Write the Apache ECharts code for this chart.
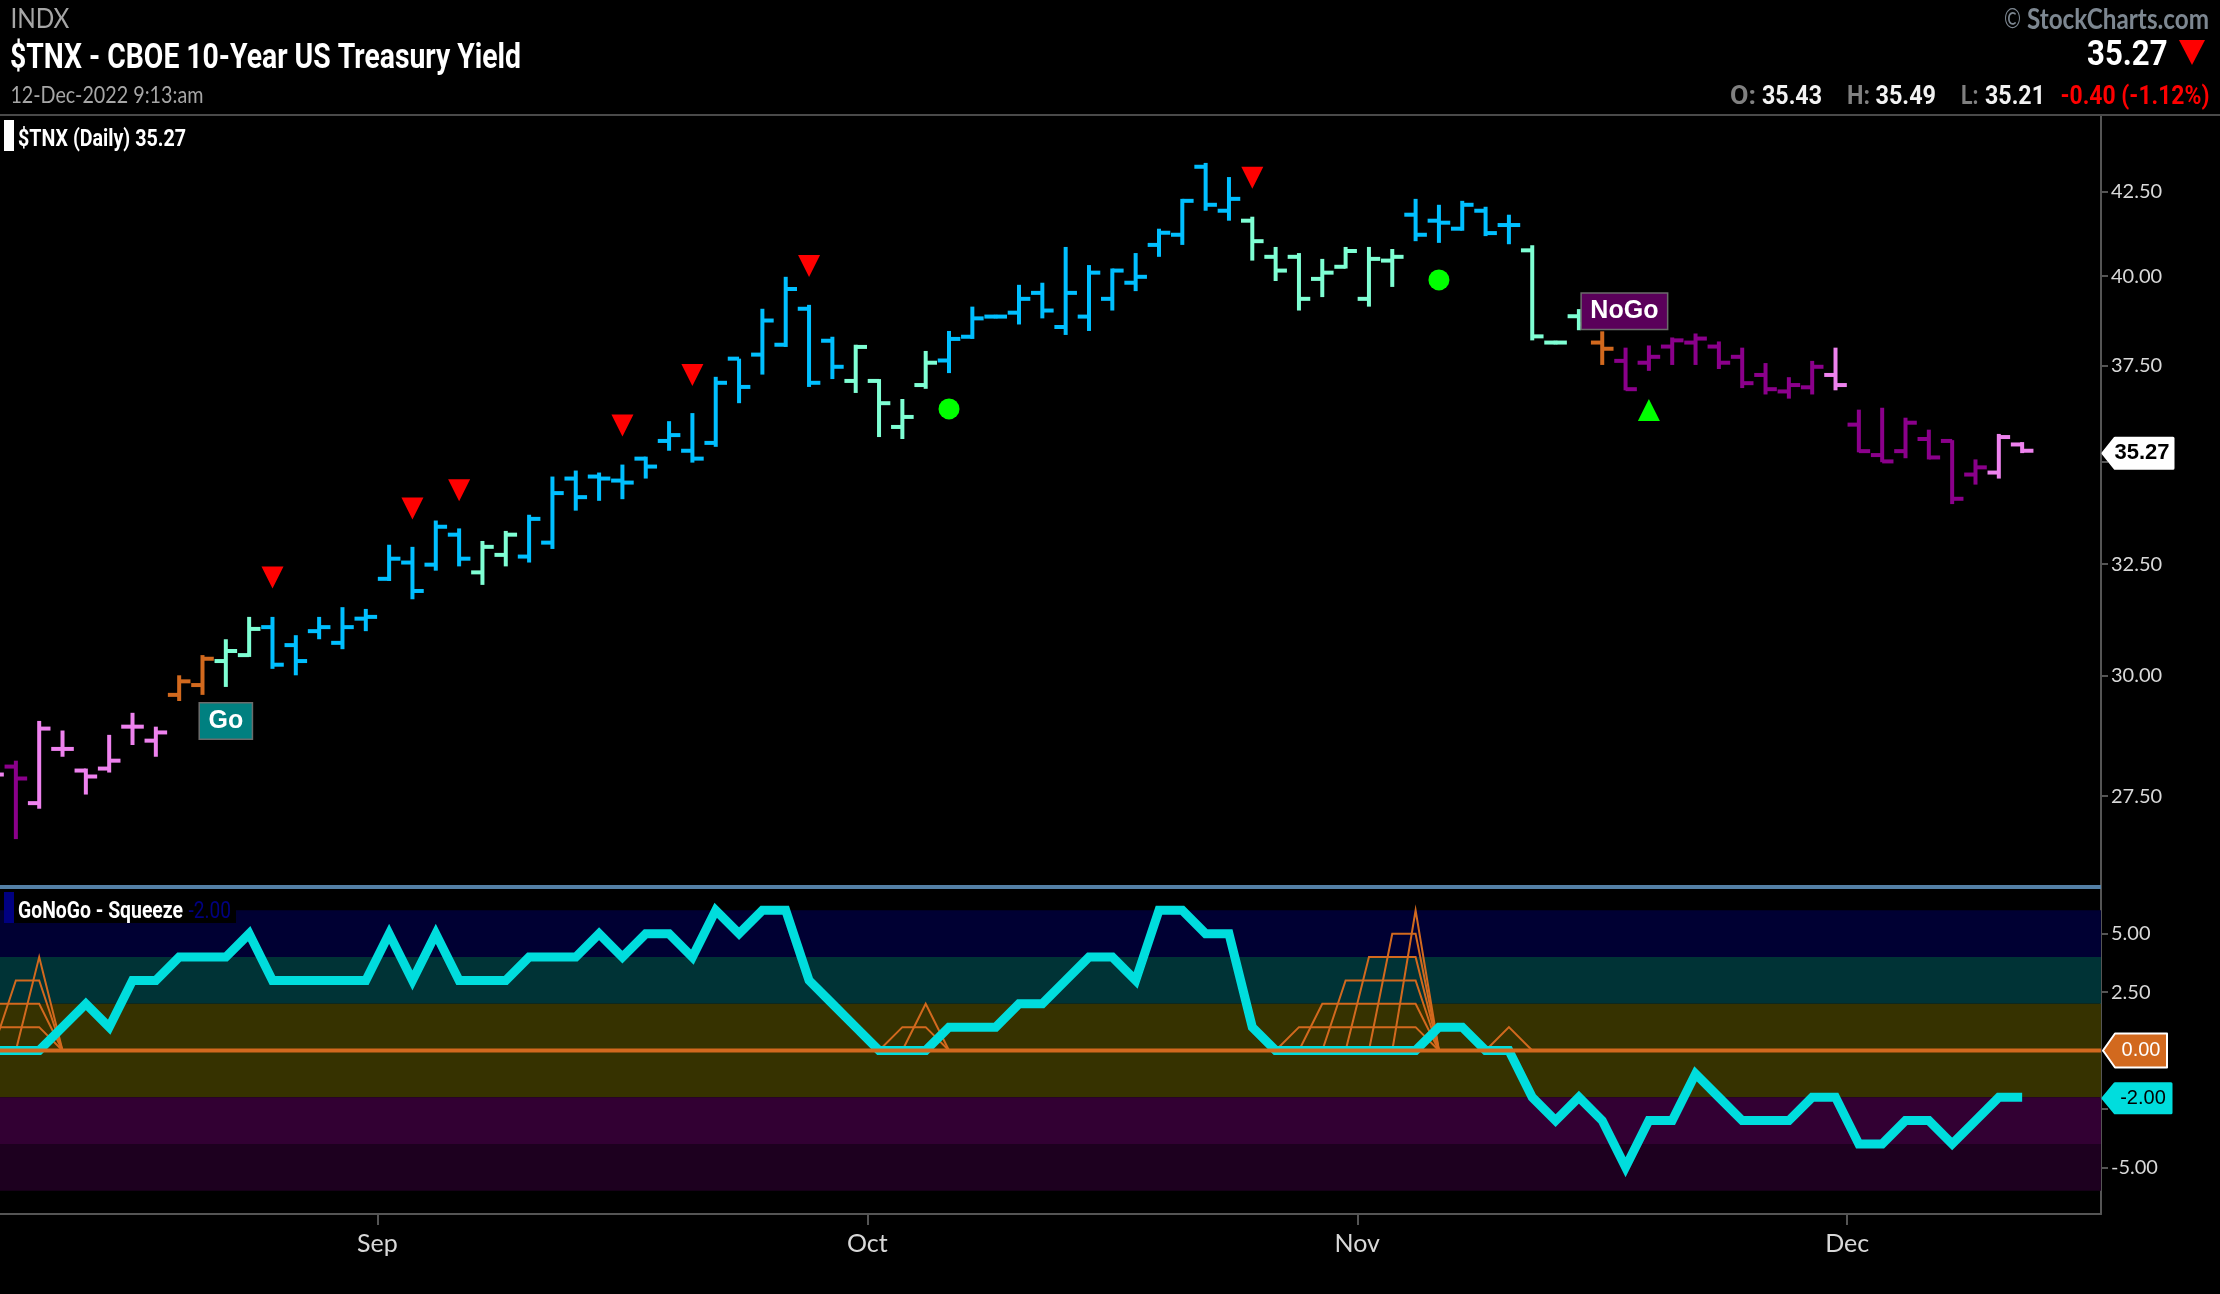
<!DOCTYPE html>
<html>
<head>
<meta charset="utf-8">
<title>$TNX - CBOE 10-Year US Treasury Yield</title>
<script src="https://cdn.jsdelivr.net/npm/echarts@6/dist/echarts.min.js"></script>
<style>
  html, body { margin: 0; padding: 0; background: #000; }
  #chart { width: 2220px; height: 1294px; }
</style>
</head>
<body>
<div id="chart"></div>
<script>
// Daily bars, one entry per trading day from 9 Aug to 12 Dec 2022
const barOpen = [
  27.93,28.09,27.36,28.45,28.01,28.05,28.91,28.62,29.58,29.79,
  30.31,30.44,31.06,30.66,30.97,30.71,31.25,32.16,32.54,32.49,
  33.20,32.31,32.72,32.68,33.01,34.57,34.62,34.52,35.07,35.52,
  35.27,35.47,37.69,37.80,38.07,39.07,38.18,37.09,37.09,35.88,
  36.98,37.64,38.29,38.85,38.96,39.52,38.56,38.85,39.35,39.81,
  40.91,41.21,43.28,41.93,41.63,40.56,40.56,39.92,40.27,39.35,
  40.45,41.81,41.63,41.39,41.93,41.50,40.75,38.13,38.86,38.13,
  37.63,37.58,38.02,38.13,38.02,37.74,37.25,36.81,36.92,37.25,
  35.94,35.16,35.26,35.57,35.52,34.67,34.72,35.43];
const barHigh = [
  28.20,28.21,29.03,28.83,28.05,28.74,29.20,28.91,30.00,30.44,
  30.79,31.29,31.29,30.88,31.29,31.51,31.47,32.96,32.91,33.54,
  33.35,33.05,33.29,33.68,34.62,34.77,34.72,34.92,35.12,36.03,
  36.24,37.20,37.69,39.07,39.98,39.18,38.29,38.07,37.14,36.61,
  37.90,38.45,39.13,38.90,39.75,39.81,40.85,40.32,40.22,40.67,
  41.39,42.29,43.40,42.96,41.75,40.85,40.67,40.50,40.85,40.85,
  40.79,42.29,42.11,42.23,42.05,41.81,40.90,38.18,39.06,38.44,
  37.99,38.05,38.27,38.38,38.16,37.99,37.57,37.19,37.63,37.99,
  36.33,36.38,36.12,35.81,35.54,35.05,35.70,35.49];
const barLow = [
  27.70,26.66,27.25,28.29,27.53,27.97,28.53,28.29,29.45,29.58,
  29.75,30.40,30.14,30.00,30.79,30.57,30.97,32.11,31.69,32.35,
  32.45,32.02,32.45,32.54,32.86,33.78,34.02,34.06,34.57,35.27,
  34.97,35.37,36.50,37.26,38.01,36.93,37.14,36.77,35.62,35.57,
  36.88,37.30,38.23,38.80,38.63,38.80,38.34,38.45,39.02,39.57,
  40.56,40.91,41.93,41.63,40.45,39.86,39.02,39.40,40.22,39.13,
  39.69,41.02,40.97,41.33,41.17,40.93,38.19,38.08,38.47,37.52,
  36.84,37.36,37.52,37.52,37.41,36.90,36.73,36.62,36.73,36.84,
  35.23,34.98,35.08,35.05,33.94,34.42,34.57,35.21];
const barClose = [
  27.93,27.85,28.87,28.45,27.89,28.21,28.91,28.79,29.87,30.36,
  30.53,31.02,30.23,30.31,31.06,31.06,31.29,32.63,31.88,33.39,
  32.63,32.91,33.20,33.58,34.21,34.11,34.57,34.47,34.87,35.67,
  35.07,37.04,36.93,38.74,39.63,37.04,37.47,38.01,36.50,36.14,
  37.58,38.23,38.80,38.85,39.35,39.02,39.52,40.10,40.16,39.98,
  41.27,42.23,42.11,42.29,41.02,40.16,39.35,40.10,40.73,40.50,
  40.56,41.21,41.57,42.11,41.26,41.50,38.30,38.13,38.64,37.96,
  36.87,37.74,38.19,38.24,37.58,37.03,36.87,36.98,37.47,36.98,
  35.26,35.00,35.99,35.10,34.07,34.85,35.62,35.27];

// GoNoGo colour of the bars, as runs of [state, number of bars]
const stateRuns = [
  ['nogoWeak',1],['nogo',1],['nogoWeak',6],['neutral',2],['goWeak',2],['go',9],
  ['goWeak',2],['go',14],['goWeak',4],['go',13],['goWeak',7],['go',5],
  ['goWeak',3],['neutral',1],['nogo',9],['nogoWeak',1],['nogo',6],['nogoWeak',2]];

// GoNoGo oscillator, one value per bar
const oscillator = [
  0,0,0,1,2,1,3,3,4,4,4,5,3,3,3,3,3,5,3,5,3,3,3,4,4,4,5,4,5,5,
  4,6,5,6,6,3,2,1,0,0,0,1,1,1,2,2,3,4,4,3,6,6,5,5,1,0,0,0,0,0,
  0,0,1,1,0,0,-2,-3,-2,-3,-5,-3,-3,-1,-2,-3,-3,-3,-2,-2,-4,-4,-3,-3,-4,-3,-2,-2];

// Squeeze grid: each line is a list of [bar, level]
const squeezeLines = [
  [[0,1],[2,1],[3,0]], [[0,2],[2,2],[3,0]], [[0,0],[1,3],[2,3],[3,0]], [[1,0],[2,4],[3,0]],
  [[38,0],[39,1],[40,1],[41,0]], [[39,0],[40,2],[41,0]],
  [[55,0],[56,1],[61,1],[62,0]], [[56,0],[57,2],[61,2],[62,0]], [[57,0],[58,3],[61,3],[62,0]],
  [[58,0],[59,4],[61,4],[62,0]], [[59,0],[60,5],[61,5],[62,0]], [[60,0],[61,6],[62,0]],
  [[64,0],[65,1],[66,0]]];

// Signals on the price panel: [bar, price]
const sellSignals = [[12,32.19],[18,33.83],[20,34.28],[27,35.92],[30,37.25],[35,40.29],[54,42.94]];
const dotSignals = [[41,36.35],[62,39.89]];
const buySignals = [[71,36.32]];
const goLabel = [[10,29.03]];
const noGoLabel = [[69.95,39.00]];

const priceTicks = [27.5,30,32.5,35,37.5,40,42.5];
const priceLabels = [27.5,30,32.5,37.5,40,42.5];
const oscTicks = [-5,-2.5,0,2.5,5];
const oscLabels = [-5,2.5,5];
const monthNames = ['Sep','Oct','Nov','Dec'];
const monthTicks = [16.5,37.5,58.5,79.5];
const oscBands = [[6,4,'#000033'],[4,2,'#003336'],[2,-2,'#363200'],[-2,-4,'#320033'],[-4,-6,'#1d001f']];

const stateColors = {go:'#00BFFF', goWeak:'#7FFFD4', neutral:'#D2691E', nogo:'#8B008B', nogoWeak:'#EE82EE'};
const barStates = stateRuns.flatMap(function(run) { return Array(run[1]).fill(run[0]); });

const AXIS_COLOR = '#555';
const LABEL_COLOR = '#d8d8d8';
const X_MIN = 0.32;
const X_MAX = 90.38;

const chart = echarts.init(document.getElementById('chart'));

// The price panel is a log scale, so prices go through Math.log onto a linear axis
const toAxis = function(pair) { return [pair[0], Math.log(pair[1])]; };

// Open/high/low/close bar: stem with a left tick for open and a right tick for close
function renderBar(params, api) {
  const x = api.value(0);
  const open = api.coord([x, api.value(1)]);
  const high = api.coord([x, api.value(2)]);
  const low = api.coord([x, api.value(3)]);
  const close = api.coord([x, api.value(4)]);
  const fill = stateColors[barStates[params.dataIndex]];
  const tick = 11.3;
  return {
    type: 'group',
    children: [
      {type:'rect', shape:{x:open[0]-2, y:high[1], width:4, height:low[1]-high[1]}, style:{fill:fill}},
      {type:'rect', shape:{x:open[0]-tick, y:open[1]-2, width:tick, height:4}, style:{fill:fill}},
      {type:'rect', shape:{x:close[0], y:close[1]-2, width:tick, height:4}, style:{fill:fill}}
    ]
  };
}

// Last value tag hanging off the right axis
function renderTag(tag, value) {
  return function(params, api) {
    const pos = api.coord([X_MAX, value]);
    const x = pos[0] + 2;
    const y = pos[1] + tag.dy;
    const w = tag.width;
    const h = tag.height / 2;
    return {
      type: 'group',
      children: [
        {type:'polygon',
          shape:{points:[[x,y],[x+12,y-h],[x+w,y-h],[x+w,y+h],[x+12,y+h]]},
          style:{fill:tag.fill, stroke:tag.stroke, lineWidth:tag.lineWidth, lineJoin:'round'}},
        {type:'text',
          style:{x:x+tag.textX, y:y, text:tag.text, align:'center', verticalAlign:'middle',
            fill:tag.color, font:tag.font}}
      ]
    };
  };
}

function tagSeries(tag, value, axisIndex) {
  return {
    type:'custom', xAxisIndex:axisIndex, yAxisIndex:axisIndex, z:30, clip:false, silent:true,
    data:[[X_MAX, value]], renderItem:renderTag(tag, value)
  };
}

function boxLabel(text, fill) {
  return {
    show:true, position:'inside', formatter:text, color:'#fff',
    fontFamily:'Liberation Sans', fontWeight:'bold', fontSize:25, lineHeight:25,
    backgroundColor:fill, borderColor:'#6b6b6b', borderWidth:1.5, padding:[5,8.5,5,8.5]
  };
}

// Header text, squeezed sideways to the condensed width of the original font
const measure = document.createElement('canvas').getContext('2d');
function headerText(text, x, width, y, size, weight, family, fill) {
  const font = weight + ' ' + size + 'px "' + family + '"';
  measure.font = font;
  return {
    type:'text', x:x, y:y, scaleX:width/measure.measureText(text).width, z:50, silent:true,
    style:{text:text, x:0, y:0, font:font, fill:fill, align:'left', verticalAlign:'middle'}
  };
}

const GREY = '#a6a6a6';
const graphics = [
  {type:'rect', z:40, silent:true, shape:{x:0,y:114,width:2220,height:2}, style:{fill:'#4a4a4a'}},
  {type:'rect', z:40, silent:true, shape:{x:0,y:885,width:2101,height:4}, style:{fill:'#5480A6'}},
  {type:'rect', z:40, silent:true, shape:{x:4,y:120,width:10,height:31}, style:{fill:'#fff'}},
  {type:'rect', z:40, silent:true, shape:{x:14,y:892,width:222,height:31}, style:{fill:'#000'}},
  {type:'rect', z:41, silent:true, shape:{x:4,y:892,width:10,height:31}, style:{fill:'#000080'}},
  {type:'polygon', z:41, silent:true, shape:{points:[[2179,40],[2205,40],[2192,65]]}, style:{fill:'#f00'}},
  headerText('INDX', 10.4, 59, 20, 26, 400, 'Lato', GREY),
  headerText('$TNX - CBOE 10-Year US Treasury Yield', 10, 511, 59, 35, 700, 'Roboto', '#fff'),
  headerText('12-Dec-2022 9:13:am', 10.4, 193, 95.7, 23, 400, 'Lato', GREY),
  headerText('$TNX (Daily) 35.27', 18, 168, 140, 24, 700, 'Roboto', '#fff'),
  headerText('©', 2004, 17, 20, 26, 400, 'Lato', '#7d8791'),
  headerText('StockCharts.com', 2027, 182, 20, 28, 700, 'Lato', '#7d8791'),
  headerText('35.27', 2087, 80.6, 56, 35, 700, 'Roboto', '#fff'),
  headerText('O:', 1730, 26, 97.5, 25, 700, 'Roboto', '#808080'),
  headerText('35.43', 1762, 60, 97.5, 25, 700, 'Roboto', '#f2f2f2'),
  headerText('H:', 1847, 23, 97.5, 25, 700, 'Roboto', '#808080'),
  headerText('35.49', 1875.5, 60.5, 97.5, 25, 700, 'Roboto', '#f2f2f2'),
  headerText('L:', 1961, 17.5, 97.5, 25, 700, 'Roboto', '#808080'),
  headerText('35.21', 1985, 60, 97.5, 25, 700, 'Roboto', '#f2f2f2'),
  headerText('-0.40 (-1.12%)', 2060.5, 149, 97.5, 25, 700, 'Roboto', '#f00'),
  headerText('GoNoGo - Squeeze', 18, 165, 912, 24, 700, 'Roboto', '#fff'),
  headerText('-2.00', 188.5, 42.5, 912, 24, 400, 'Roboto', '#000080')
];

const oscData = oscillator.map(function(v, i) { return [i, v]; });

const option = {
  animation: false,
  backgroundColor: '#000',
  graphic: graphics,
  grid: [
    {left:0, right:119, top:115, height:772},
    {left:0, right:119, top:887, height:327}
  ],
  xAxis: [
    {type:'value', gridIndex:0, min:X_MIN, max:X_MAX, show:false},
    {type:'value', gridIndex:1, min:X_MIN, max:X_MAX, position:'bottom',
      splitLine:{show:false},
      axisLine:{onZero:false, lineStyle:{color:AXIS_COLOR, width:2}},
      axisTick:{customValues:monthTicks, length:11, lineStyle:{color:AXIS_COLOR, width:2}},
      axisLabel:{customValues:monthTicks, margin:17, color:LABEL_COLOR, fontFamily:'Lato', fontSize:25,
        formatter:function(v) { return monthNames[monthTicks.indexOf(v)]; }}}
  ],
  yAxis: [
    {type:'value', gridIndex:0, position:'right', min:3.24864, max:3.80499,
      splitLine:{show:false},
      axisLine:{show:true, onZero:false, lineStyle:{color:AXIS_COLOR, width:2}},
      axisTick:{show:true, customValues:priceTicks.map(Math.log), length:7, lineStyle:{color:AXIS_COLOR, width:2}},
      axisLabel:{customValues:priceLabels.map(Math.log), margin:10, color:LABEL_COLOR, fontFamily:'Lato', fontSize:20,
        formatter:function(v) { return Math.exp(v).toFixed(2); }}},
    {type:'value', gridIndex:1, position:'right', min:-7, max:7,
      splitLine:{show:false},
      axisLine:{show:true, onZero:false, lineStyle:{color:AXIS_COLOR, width:2}},
      axisTick:{show:true, customValues:oscTicks, length:7, lineStyle:{color:AXIS_COLOR, width:2}},
      axisLabel:{customValues:oscLabels, margin:10, color:LABEL_COLOR, fontFamily:'Lato', fontSize:20,
        formatter:function(v) { return v.toFixed(2); }}}
  ],
  series: [
    // price panel
    {type:'custom', xAxisIndex:0, yAxisIndex:0, clip:true, z:2, silent:true, renderItem:renderBar,
      encode:{x:0, y:[1,2,3,4]},
      data:barOpen.map(function(o, i) {
        return [i, Math.log(o), Math.log(barHigh[i]), Math.log(barLow[i]), Math.log(barClose[i])];
      })},
    {type:'scatter', xAxisIndex:0, yAxisIndex:0, z:3, silent:true, symbol:'triangle', symbolRotate:180,
      symbolSize:[22,22], itemStyle:{color:'#f00', opacity:1}, data:sellSignals.map(toAxis)},
    {type:'scatter', xAxisIndex:0, yAxisIndex:0, z:3, silent:true, symbol:'circle',
      symbolSize:21, itemStyle:{color:'#00ff00', opacity:1}, data:dotSignals.map(toAxis)},
    {type:'scatter', xAxisIndex:0, yAxisIndex:0, z:3, silent:true, symbol:'triangle',
      symbolSize:[22,22], itemStyle:{color:'#00ff00', opacity:1}, data:buySignals.map(toAxis)},
    {type:'scatter', xAxisIndex:0, yAxisIndex:0, z:4, silent:true, symbolSize:1,
      itemStyle:{color:'transparent', opacity:1}, label:boxLabel('Go', '#008080'), data:goLabel.map(toAxis)},
    {type:'scatter', xAxisIndex:0, yAxisIndex:0, z:4, silent:true, symbolSize:1,
      itemStyle:{color:'transparent', opacity:1}, label:boxLabel('NoGo', '#5a005a'), data:noGoLabel.map(toAxis)},
    tagSeries({width:70, height:30, dy:2.5, fill:'#fff', stroke:'#fff', lineWidth:3, textX:39, text:'35.27', color:'#000',
      font:'bold 22px "Liberation Sans"'}, Math.log(barClose[barClose.length-1]), 0),

    // oscillator panel
    {type:'line', xAxisIndex:1, yAxisIndex:1, z:1, silent:true, showSymbol:false, lineStyle:{opacity:0}, data:oscData,
      markArea:{silent:true, data:oscBands.map(function(b) {
        return [{yAxis:b[0], itemStyle:{color:b[2], opacity:1}}, {yAxis:b[1]}];
      })}}
  ].concat(squeezeLines.map(function(points) {
    return {type:'line', xAxisIndex:1, yAxisIndex:1, z:2, silent:true, showSymbol:false, data:points,
      lineStyle:{color:'#D2691E', width:2, join:'miter', miterLimit:12}};
  })).concat([
    {type:'line', xAxisIndex:1, yAxisIndex:1, z:3, silent:true, showSymbol:false, data:oscData,
      lineStyle:{color:'#00DDDD', width:9, join:'miter', miterLimit:12, cap:'butt'}},
    {type:'line', xAxisIndex:1, yAxisIndex:1, z:4, silent:true, showSymbol:false, data:[[X_MIN,0],[X_MAX,0]],
      lineStyle:{color:'#D2691E', width:4}},
    tagSeries({width:64, height:34, dy:0, fill:'#D2691E', stroke:'#fff', lineWidth:2, textX:38, text:'0.00', color:'#fff',
      font:'20px "Liberation Sans"'}, 0, 1),
    tagSeries({width:68, height:29, dy:1, fill:'#00DDDD', stroke:'#00DDDD', lineWidth:3, textX:40, text:'-2.00', color:'#000',
      font:'20px "Liberation Sans"'}, oscillator[oscillator.length-1], 1)
  ])
};

chart.setOption(option);
</script>
</body>
</html>
